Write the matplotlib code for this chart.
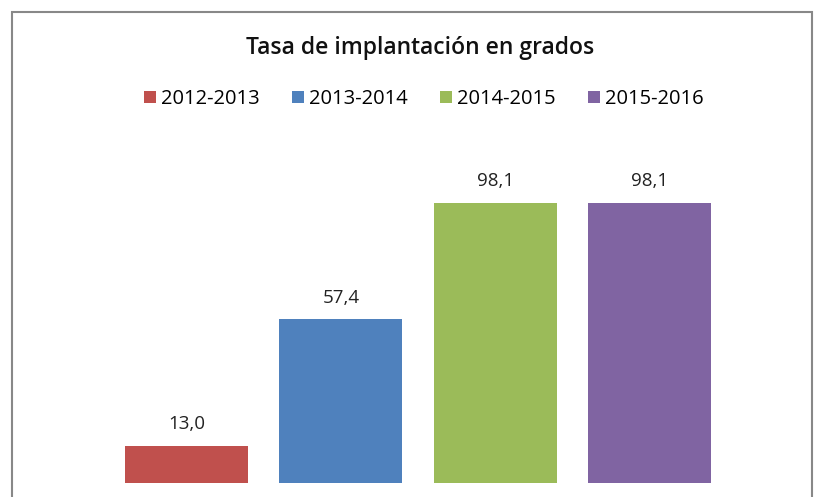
import matplotlib
matplotlib.use("Agg")
import matplotlib.pyplot as plt
from matplotlib.patches import Rectangle

# data
series = ["2012-2013", "2013-2014", "2014-2015", "2015-2016"]
values = [13.0, 57.4, 98.1, 98.1]
colors = ["#C0504D", "#4F81BD", "#9BBB59", "#8064A2"]
title = "Tasa de implantación en grados"

plt.rcParams['font.family'] = ['Open Sans', 'DejaVu Sans']

W, H = 815, 497
fig = plt.figure(figsize=(W / 100, H / 100), dpi=100)

# plot area: bars from px 125 to 711, baseline at px 483
bw = 0.796
ax = fig.add_axes([125 / W, (H - 483) / H, (711 - 125) / W, (483 - 150) / H])
ax.set_xlim(-bw / 2, len(values) - 1 + bw / 2)
ax.set_ylim(0, (483 - 150) / 2.855)
ax.axis("off")

xs = list(range(len(values)))
bars = ax.bar(xs, values, width=bw, color=colors, label=series)
for x, v in zip(xs, values):
    ax.annotate(f"{v:.1f}".replace(".", ","), (x, v), xytext=(0, 9),
                textcoords="offset points", ha="center", va="bottom",
                fontsize=13.5, color="#222222")

fig.text(420 / W, 1 - 48 / H, title, ha="center", va="center",
         fontsize=16.5, fontweight="semibold", color="#111111")

fig.legend(bars, series, loc="center", bbox_to_anchor=(424 / W, 1 - 99 / H),
           ncol=4, frameon=False, fontsize=14.5, handlelength=0.6,
           handleheight=0.6, handletextpad=0.25, columnspacing=1.6)

# outer chart border (cut at the bottom)
fig.patches.append(Rectangle((12 / W, -0.1), (812 - 12) / W, 1.1 - 12 / H,
                             transform=fig.transFigure, fill=False,
                             edgecolor="#888888", linewidth=1.5))

fig.savefig("out.png", dpi=100)
